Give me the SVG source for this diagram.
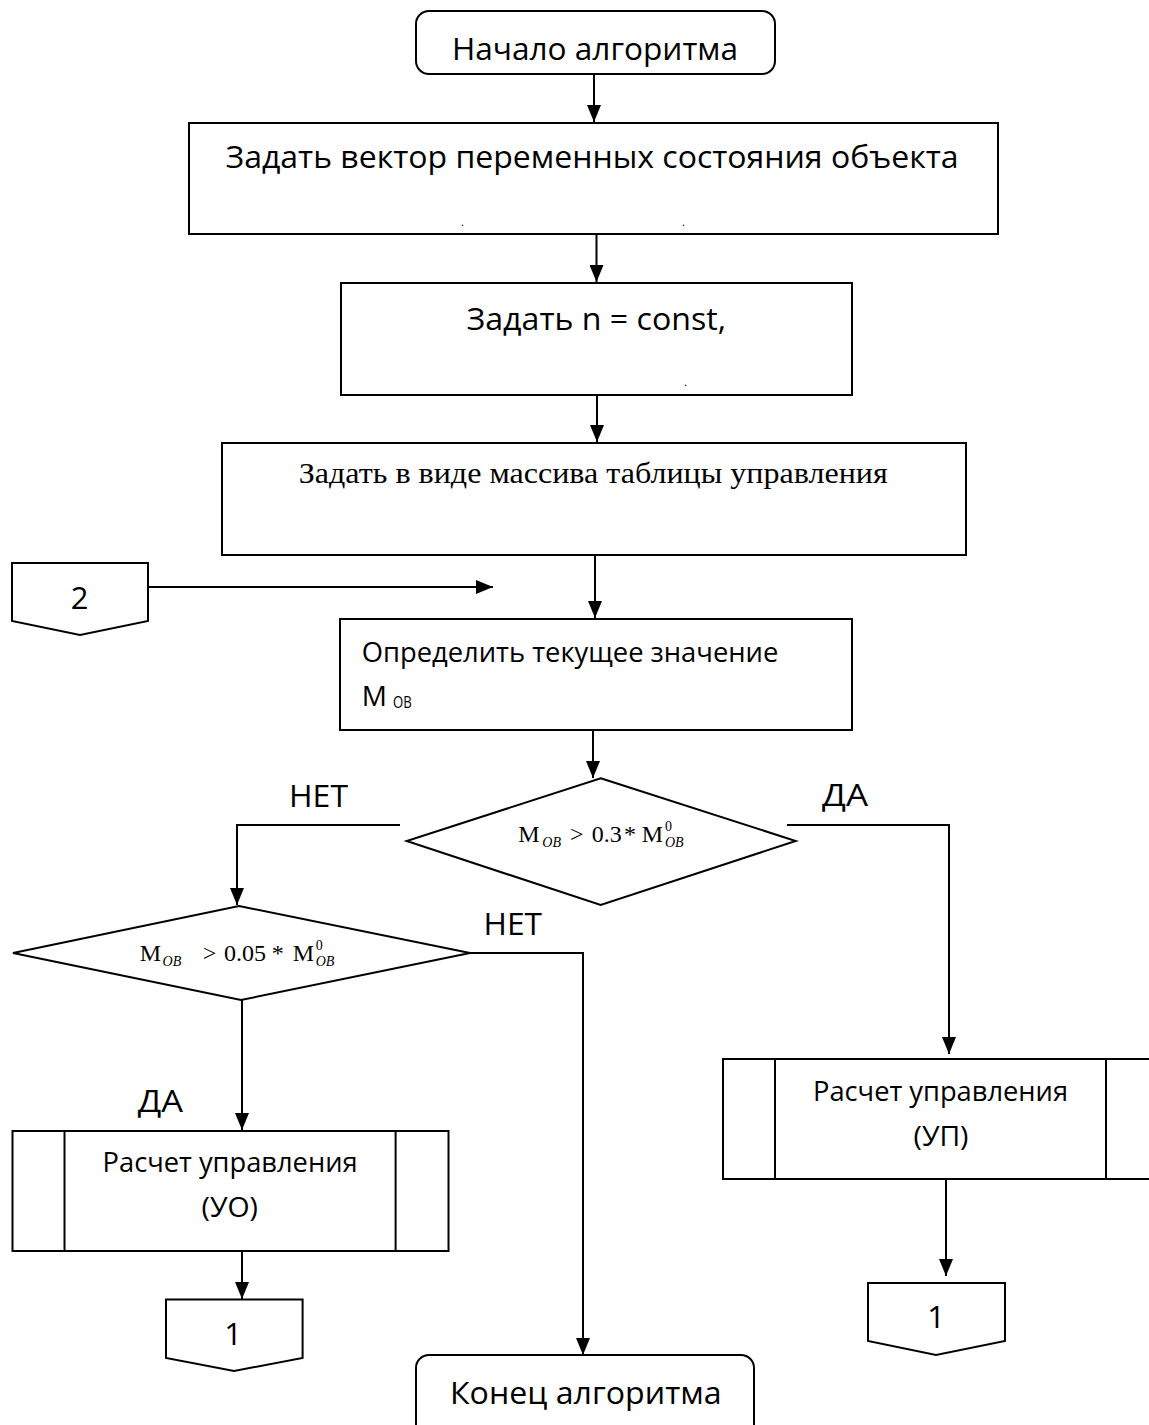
<svg xmlns="http://www.w3.org/2000/svg" width="1149" height="1425" viewBox="0 0 1149 1425">
<defs>
<style>
.shape{fill:#fff;stroke:#000;stroke-width:2}
.line{fill:none;stroke:#000;stroke-width:2}
.t{font-family:"Open Sans","Liberation Sans",sans-serif;fill:#000}
.s{font-family:"Liberation Serif","Times New Roman",serif;fill:#000}
.i{font-style:italic}
</style>
<marker id="arr" viewBox="0 0 17 14" refX="17" refY="7" markerWidth="17" markerHeight="14" markerUnits="userSpaceOnUse" orient="auto">
<path d="M0,0 L17,7 L0,14 z" fill="#000"/>
</marker>
</defs>
<rect width="1149" height="1425" fill="#fff"/>

<g id="connectors">
<line class="line" x1="594" y1="74" x2="594" y2="122" marker-end="url(#arr)"/>
<line class="line" x1="596.5" y1="234" x2="596.5" y2="282" marker-end="url(#arr)"/>
<line class="line" x1="597" y1="395" x2="597" y2="442" marker-end="url(#arr)"/>
<line class="line" x1="595" y1="555" x2="595" y2="618" marker-end="url(#arr)"/>
<line class="line" x1="148" y1="587" x2="493" y2="587" marker-end="url(#arr)"/>
<line class="line" x1="593" y1="730" x2="593" y2="778" marker-end="url(#arr)"/>
<polyline class="line" points="400,825 237,825 237,905" marker-end="url(#arr)"/>
<polyline class="line" points="787,825 949,825 949,1054" marker-end="url(#arr)"/>
<polyline class="line" points="470,953 583,953 583,1355" marker-end="url(#arr)"/>
<line class="line" x1="242" y1="1000" x2="242" y2="1130" marker-end="url(#arr)"/>
<line class="line" x1="242" y1="1251" x2="242" y2="1299" marker-end="url(#arr)"/>
<line class="line" x1="946" y1="1179" x2="946" y2="1276" marker-end="url(#arr)"/>
<text class="t" x="289" y="806.6" font-size="31" textLength="59" lengthAdjust="spacingAndGlyphs">НЕТ</text>
<text class="t" x="822" y="806" font-size="31" textLength="46" lengthAdjust="spacingAndGlyphs">ДА</text>
<text class="t" x="483.5" y="935" font-size="31" textLength="58.5" lengthAdjust="spacingAndGlyphs">НЕТ</text>
<text class="t" x="137.7" y="1112" font-size="31" textLength="45.3" lengthAdjust="spacingAndGlyphs">ДА</text>
</g>

<g id="start">
<rect class="shape" x="416" y="11" width="359" height="63" rx="13"/>
<text class="t" x="452" y="60" font-size="31" textLength="286" lengthAdjust="spacingAndGlyphs">Начало алгоритма</text>
</g>

<g id="box1">
<rect class="shape" x="189" y="123" width="809" height="111"/>
<text class="t" x="225.5" y="168" font-size="31" textLength="733" lengthAdjust="spacingAndGlyphs">Задать вектор переменных состояния объекта</text>
<text class="s" x="461" y="226" font-size="12">.</text>
<text class="s" x="682" y="226" font-size="12">.</text>
</g>

<g id="box2">
<rect class="shape" x="341" y="283" width="511" height="112"/>
<text class="t" x="466.5" y="330" font-size="31" textLength="259.5" lengthAdjust="spacingAndGlyphs">Задать n = const,</text>
<text class="s" x="684" y="386" font-size="12">.</text>
</g>

<g id="box3">
<rect class="shape" x="222" y="443" width="744" height="112"/>
<text class="s" x="298.75" y="483" font-size="29" textLength="589" lengthAdjust="spacingAndGlyphs">Задать в виде массива таблицы управления</text>
</g>

<g id="connector2">
<polygon class="shape" points="12,563 148,563 148,621 80,635 12,621"/>
<text class="t" x="79.5" y="609.3" font-size="31" text-anchor="middle">2</text>
</g>

<g id="box4">
<rect class="shape" x="340" y="619" width="512" height="111"/>
<text class="t" x="361.7" y="661.7" font-size="28" textLength="416.6" lengthAdjust="spacingAndGlyphs">Определить текущее значение</text>
<text class="t" x="361.7" y="706" font-size="28">M</text>
<text class="t" x="393" y="708.3" font-size="17" textLength="18.7" lengthAdjust="spacingAndGlyphs">OB</text>
</g>

<g id="decision1">
<polygon class="shape" points="600.7,778.3 795.7,841 600.7,905 406.7,841"/>
<text class="s" font-size="24" y="841.7"><tspan x="518.3">M</tspan><tspan x="570">&gt;</tspan><tspan x="591.7">0.3</tspan><tspan x="624">*</tspan><tspan x="641.7">M</tspan></text>
<text class="s i" font-size="14" y="847.3"><tspan x="542.3">OB</tspan><tspan x="665">OB</tspan></text>
<text class="s" font-size="14" x="665" y="830.7">0</text>
</g>

<g id="decision2">
<polygon class="shape" points="239,906 470,953 241,1000 13,953"/>
<text class="s" font-size="24" y="961"><tspan x="139.7">M</tspan><tspan x="202.8">&gt;</tspan><tspan x="223.9">0.05</tspan><tspan x="271.7">*</tspan><tspan x="292.8">M</tspan></text>
<text class="s i" font-size="14" y="966"><tspan x="162.6">OB</tspan><tspan x="315.7">OB</tspan></text>
<text class="s" font-size="14" x="315.7" y="950">0</text>
</g>

<g id="subUO">
<rect class="shape" x="12.5" y="1131" width="436" height="120"/>
<line class="line" x1="64.5" y1="1131" x2="64.5" y2="1251"/>
<line class="line" x1="395.6" y1="1131" x2="395.6" y2="1251"/>
<text class="t" x="102.6" y="1171.5" font-size="27" textLength="255" lengthAdjust="spacingAndGlyphs">Расчет управления</text>
<text class="t" x="201.5" y="1216.5" font-size="27" textLength="56.5" lengthAdjust="spacingAndGlyphs">(УО)</text>
</g>

<g id="subUP">
<rect class="shape" x="723" y="1059" width="445" height="120"/>
<line class="line" x1="775" y1="1059" x2="775" y2="1179"/>
<line class="line" x1="1106" y1="1059" x2="1106" y2="1179"/>
<text class="t" x="813" y="1100.5" font-size="27" textLength="255" lengthAdjust="spacingAndGlyphs">Расчет управления</text>
<text class="t" x="913.5" y="1146" font-size="27" textLength="55" lengthAdjust="spacingAndGlyphs">(УП)</text>
</g>

<g id="connector1left">
<polygon class="shape" points="166,1299.4 302.6,1299.4 302.6,1358 234,1371 166,1358"/>
<text class="t" x="233" y="1345" font-size="31" text-anchor="middle">1</text>
</g>

<g id="connector1right">
<polygon class="shape" points="868,1283 1005,1283 1005,1341 936,1355 868,1341"/>
<text class="t" x="936" y="1328" font-size="31" text-anchor="middle">1</text>
</g>

<g id="end">
<rect class="shape" x="416" y="1355" width="338" height="90" rx="13"/>
<text class="t" x="450" y="1404" font-size="31" textLength="271.7" lengthAdjust="spacingAndGlyphs">Конец алгоритма</text>
</g>
</svg>
